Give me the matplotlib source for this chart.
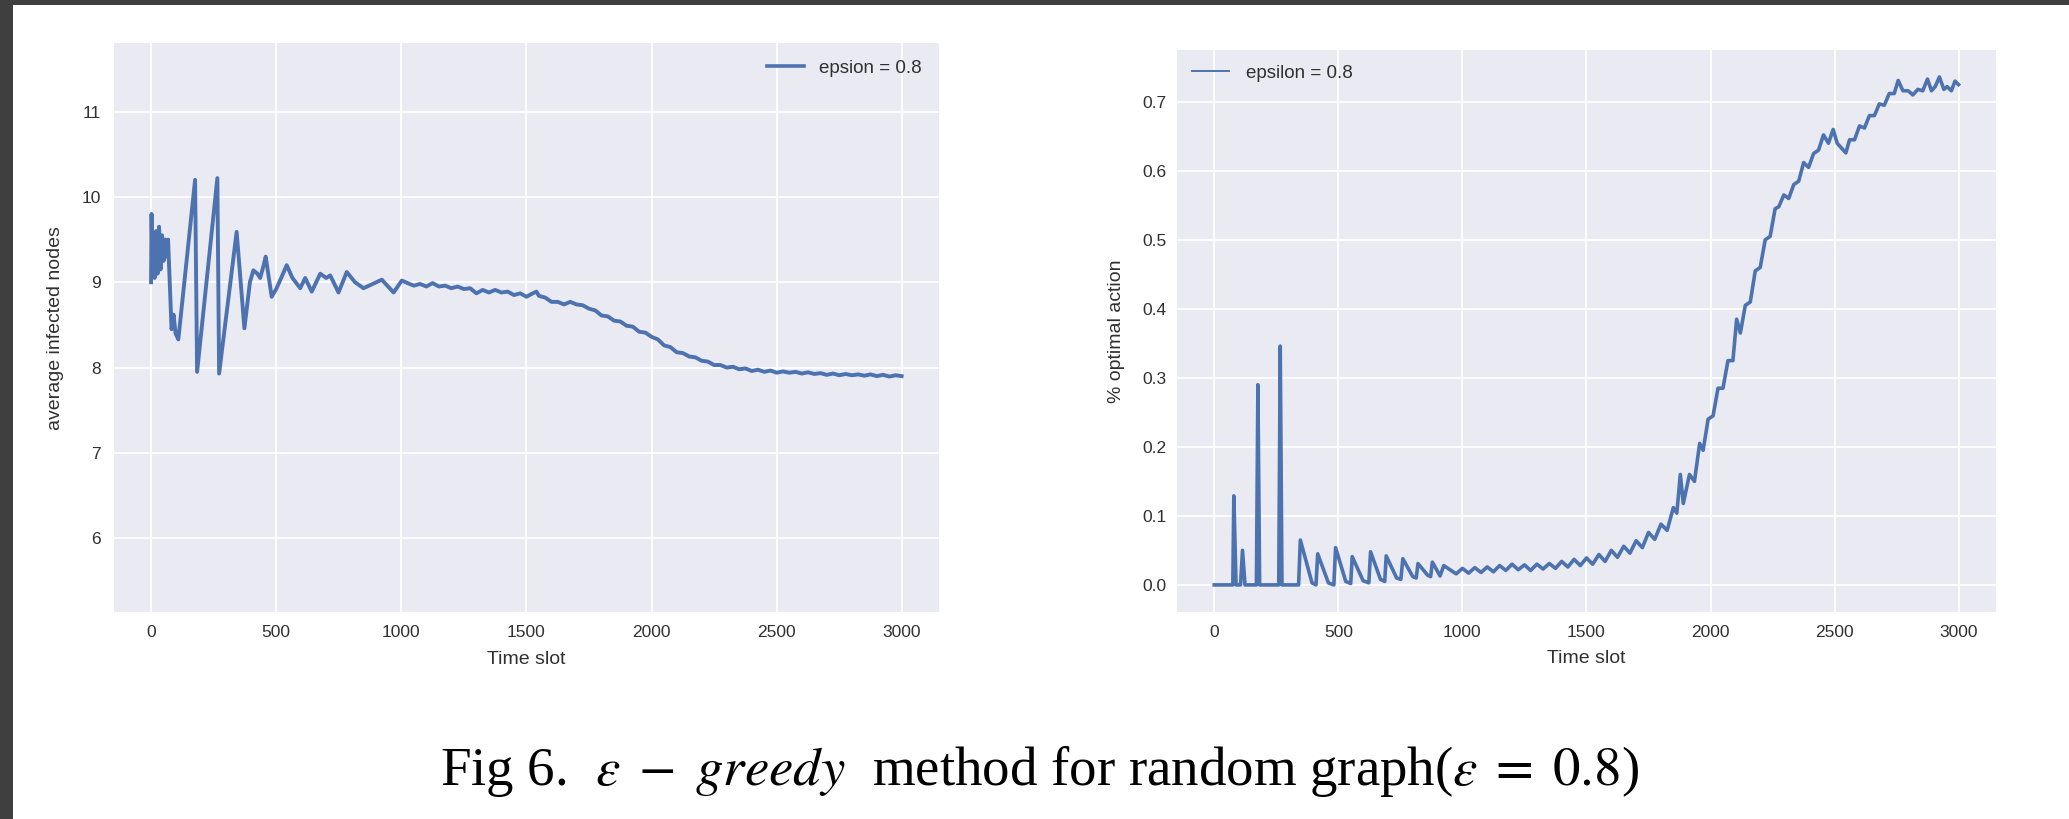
import matplotlib
matplotlib.use("Agg")
import matplotlib.pyplot as plt
from matplotlib.patches import Rectangle

# ---------------- data ----------------
left_x = [0, 2, 6, 10, 14, 20, 26, 32, 38, 44, 50, 56, 62, 68, 82, 90, 98, 109,
          176, 184, 265, 272, 342, 373, 395, 409, 425, 436, 450, 458, 482, 500,
          520, 542, 565, 596, 616, 642, 676, 700, 716, 749, 782, 815, 849, 885,
          922, 969, 1002,
          1025, 1050, 1075, 1100, 1125, 1150, 1175, 1200, 1225, 1250, 1275, 1300,
          1325, 1350, 1375, 1400, 1425, 1450, 1475, 1500, 1525, 1540, 1550, 1575,
          1600, 1625, 1650, 1675, 1700, 1725, 1750, 1775, 1800, 1825, 1850, 1875,
          1900, 1925, 1950, 1975, 2000, 2025, 2050, 2075, 2100, 2125, 2150, 2175,
          2200, 2225, 2250, 2275, 2300, 2325, 2350, 2375, 2400, 2425, 2450, 2475,
          2500, 2525, 2550, 2575, 2600, 2625, 2650, 2675, 2700, 2725, 2750, 2775,
          2800, 2825, 2850, 2875, 2900, 2925, 2950, 2975, 2999]
left_y = [9.00, 9.80, 9.10, 9.55, 9.05, 9.60, 9.10, 9.65, 9.15, 9.55, 9.25, 9.50,
          9.30, 9.50, 8.45, 8.62, 8.40, 8.33,
          10.20, 7.95, 10.22, 7.93, 9.59, 8.46, 9.00, 9.14, 9.10, 9.05, 9.20, 9.30,
          8.83, 8.92, 9.05, 9.20, 9.05, 8.93, 9.05, 8.89, 9.10, 9.05, 9.08, 8.88,
          9.12, 9.00, 8.93, 8.98, 9.03, 8.88, 9.02,
          8.99, 8.96, 8.98, 8.95, 8.99, 8.95, 8.96, 8.93, 8.95, 8.92, 8.93, 8.87,
          8.91, 8.88, 8.91, 8.88, 8.89, 8.85, 8.87, 8.83, 8.87, 8.89, 8.84, 8.82,
          8.77, 8.77, 8.74, 8.77, 8.74, 8.73, 8.69, 8.67, 8.61, 8.60, 8.55, 8.54,
          8.49, 8.48, 8.42, 8.41, 8.36, 8.33, 8.26, 8.24, 8.18, 8.17, 8.13, 8.12,
          8.08, 8.07, 8.03, 8.03, 8.00, 8.01, 7.98, 7.99, 7.96, 7.975, 7.95, 7.965,
          7.94, 7.955, 7.94, 7.95, 7.93, 7.945, 7.925, 7.935, 7.915, 7.93, 7.91, 7.925,
          7.91, 7.92, 7.905, 7.92, 7.90, 7.915, 7.895, 7.91, 7.90]

right_x = [0, 75, 79, 88, 106, 114, 124, 170, 176, 183, 260, 266, 273, 340, 347,
           394, 410, 417, 460, 482, 489, 530, 550, 556, 600, 623, 630, 670, 687,
           693, 735, 752, 760, 800, 814, 821, 860, 872, 879, 910, 925,
           950, 975, 1000, 1025, 1050, 1075, 1100, 1125, 1150, 1175, 1200, 1225,
           1250, 1275, 1300, 1325, 1350, 1375, 1400, 1425, 1450, 1475, 1500, 1525,
           1550, 1575, 1600, 1625, 1650, 1675, 1700, 1725, 1750, 1775, 1800, 1825,
           1850, 1864, 1878, 1890, 1915, 1935, 1956, 1970, 1990, 2010, 2030, 2050,
           2070, 2090, 2105, 2120, 2140, 2160, 2180, 2200, 2220, 2240, 2260, 2275,
           2295, 2315, 2335, 2355, 2375, 2395, 2415, 2435, 2455, 2475, 2494, 2510,
           2530, 2545, 2560, 2580, 2600, 2620, 2640, 2660, 2680, 2700, 2720, 2740,
           2756, 2775, 2796, 2815, 2835, 2855, 2874, 2890, 2905, 2922, 2940, 2953,
           2970, 2985, 2999]
right_y = [0.0, 0.0, 0.129, 0.0, 0.0, 0.050, 0.0, 0.0, 0.290, 0.0, 0.0, 0.346, 0.0,
           0.0, 0.065, 0.003, 0.0, 0.045, 0.003, 0.0, 0.054, 0.005, 0.002, 0.041,
           0.006, 0.003, 0.048, 0.008, 0.005, 0.042, 0.010, 0.008, 0.038, 0.012,
           0.010, 0.031, 0.014, 0.012, 0.033, 0.013, 0.028,
           0.022, 0.016, 0.024, 0.017, 0.025, 0.018, 0.026, 0.019, 0.028, 0.021,
           0.030, 0.022, 0.029, 0.021, 0.030, 0.023, 0.031, 0.024, 0.034, 0.026,
           0.037, 0.028, 0.039, 0.030, 0.044, 0.034, 0.050, 0.040, 0.056, 0.046,
           0.064, 0.054, 0.076, 0.066, 0.088, 0.079, 0.112, 0.104, 0.160, 0.118,
           0.160, 0.150, 0.205, 0.195, 0.240, 0.245, 0.285, 0.285, 0.325, 0.325,
           0.385, 0.365, 0.405, 0.410, 0.455, 0.460, 0.500, 0.505, 0.545, 0.548,
           0.565, 0.560, 0.580, 0.585, 0.612, 0.605, 0.625, 0.630, 0.652, 0.640,
           0.660, 0.640, 0.632, 0.626, 0.645, 0.645, 0.665, 0.662, 0.680, 0.680,
           0.697, 0.695, 0.712, 0.712, 0.731, 0.716, 0.716, 0.710, 0.718, 0.716,
           0.733, 0.716, 0.722, 0.736, 0.718, 0.722, 0.716, 0.730, 0.725]

xticks = [0, 500, 1000, 1500, 2000, 2500, 3000]
left_yticks = [6, 7, 8, 9, 10, 11]
right_yticks = [0.0, 0.1, 0.2, 0.3, 0.4, 0.5, 0.6, 0.7]

left_label = "epsion = 0.8"
right_label = "epsilon = 0.8"
caption = (r"Fig 6.  $\varepsilon\;-\;greedy$  method for random "
           r"graph($\varepsilon\;=\;0.8$)")

# ---------------- style ----------------
plt.rcParams["font.family"] = ["Liberation Sans", "DejaVu Sans"]
plt.rcParams["mathtext.fontset"] = "stix"

LINE = "#4C72B0"
BG = "#EAEAF2"
TXT = "#303030"

fig = plt.figure(figsize=(20.69, 8.19), dpi=100)
fig.patch.set_facecolor("white")

# dark frame of the screenshot
fig.patches.append(Rectangle((0, 1 - 5 / 819), 1, 5 / 819, transform=fig.transFigure,
                             facecolor="#3f3f3f", edgecolor="none", zorder=0))
fig.patches.append(Rectangle((0, 0), 13 / 2069, 1, transform=fig.transFigure,
                             facecolor="#3f3f3f", edgecolor="none", zorder=0))

ax1 = fig.add_axes([0.05486, 0.25214, 0.39918, 0.69499])
ax2 = fig.add_axes([0.56887, 0.25214, 0.39584, 0.68632])


def style(ax, ypad):
    ax.set_facecolor(BG)
    for s in ax.spines.values():
        s.set_visible(False)
    ax.grid(True, color="white", linewidth=1.3)
    ax.set_axisbelow(True)
    ax.tick_params(axis="both", length=0, labelsize=12.5, labelcolor=TXT)
    ax.tick_params(axis="y", pad=ypad)
    ax.tick_params(axis="x", pad=9)


style(ax1, 9.1)
style(ax2, 7.3)

ax1.plot(left_x, left_y, color=LINE, linewidth=2.8, label=left_label)
ax1.set_xlim(-150, 3150)
ax1.set_ylim(5.13, 11.8)
ax1.set_xticks(xticks)
ax1.set_yticks(left_yticks)
ax1.set_xlabel("Time slot", fontsize=14, color=TXT)
ax1.set_ylabel("average infected nodes", fontsize=14, color=TXT)
ax1.xaxis.set_label_coords(0.5, -0.067)
ax1.yaxis.set_label_coords(-0.060, 0.5)
leg1 = ax1.legend(loc="center right", bbox_to_anchor=(0.979, 0.9566), frameon=False,
                  fontsize=13.5, handlelength=2.0, handletextpad=0.8,
                  borderpad=0, borderaxespad=0)
for t in leg1.get_texts():
    t.set_color(TXT)
leg1.get_lines()[0].set_linewidth(2.6)

ax2.plot(right_x, right_y, color=LINE, linewidth=2.6, label=right_label)
ax2.set_xlim(-150, 3150)
ax2.set_ylim(-0.040, 0.7745)
ax2.set_xticks(xticks)
ax2.set_yticks(right_yticks)
ax2.set_xlabel("Time slot", fontsize=14, color=TXT)
ax2.set_ylabel("% optimal action", fontsize=14, color=TXT)
ax2.xaxis.set_label_coords(0.5, -0.067)
ax2.yaxis.set_label_coords(-0.064, 0.5)
leg2 = ax2.legend(loc="center left", bbox_to_anchor=(0.0183, 0.9598), frameon=False,
                  fontsize=13.5, handlelength=2.0, handletextpad=0.9,
                  borderpad=0, borderaxespad=0)
for t in leg2.get_texts():
    t.set_color(TXT)
leg2.get_lines()[0].set_linewidth(1.4)

fig.text(0.5025, 0.0415, caption, ha="center", va="baseline", fontsize=39.5,
         family=["Liberation Serif", "DejaVu Serif"], color="black")

fig.savefig("out.png", dpi=100, facecolor="white")
